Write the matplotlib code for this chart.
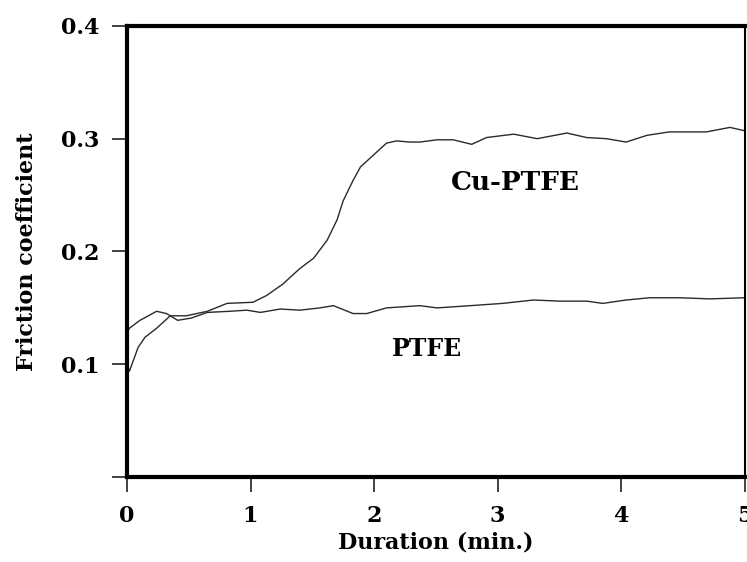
import matplotlib
matplotlib.use("Agg")
import matplotlib.pyplot as plt

# Friction coefficient versus sliding duration (min.)
cu_ptfe_t = [0.0, 0.02, 0.09, 0.146, 0.24, 0.35, 0.48, 0.65, 0.81, 1.02, 1.13, 1.26,
             1.40, 1.51, 1.62, 1.70, 1.75, 1.83, 1.89, 1.99, 2.10, 2.18, 2.29, 2.37,
             2.51, 2.64, 2.79, 2.91, 3.13, 3.32, 3.56, 3.72, 3.88, 4.04, 4.21, 4.39,
             4.69, 4.88, 5.0]
cu_ptfe_mu = [0.100, 0.094, 0.115, 0.124, 0.132, 0.143, 0.143, 0.147, 0.154, 0.155,
              0.161, 0.171, 0.185, 0.194, 0.210, 0.228, 0.245, 0.263, 0.275, 0.285,
              0.296, 0.298, 0.297, 0.297, 0.299, 0.299, 0.295, 0.301, 0.304, 0.300,
              0.305, 0.301, 0.300, 0.297, 0.303, 0.306, 0.306, 0.310, 0.307]

ptfe_t = [0.0, 0.02, 0.105, 0.24, 0.32, 0.41, 0.52, 0.65, 0.83, 0.97, 1.08, 1.24,
          1.40, 1.56, 1.67, 1.83, 1.94, 2.10, 2.37, 2.51, 2.78, 3.04, 3.29, 3.50,
          3.72, 3.85, 4.04, 4.23, 4.47, 4.72, 5.0]
ptfe_mu = [0.128, 0.132, 0.139, 0.147, 0.145, 0.139, 0.141, 0.146, 0.147, 0.148,
           0.146, 0.149, 0.148, 0.150, 0.152, 0.145, 0.145, 0.150, 0.152, 0.150,
           0.152, 0.154, 0.157, 0.156, 0.156, 0.154, 0.157, 0.159, 0.159, 0.158,
           0.159]

x_ticks = [0, 1, 2, 3, 4, 5]
y_ticks = [0.0, 0.1, 0.2, 0.3, 0.4]
y_tick_labels = ["", "0.1", "0.2", "0.3", "0.4"]

plt.rcParams["font.family"] = ["DejaVu Serif"]

fig = plt.figure(figsize=(7.47, 5.62), dpi=100)
ax = fig.add_axes([0.170, 0.151, 0.827, 0.803])

line_kw = dict(color="#2a2a2a", linewidth=1.0)
ax.plot(cu_ptfe_t, cu_ptfe_mu, **line_kw)
ax.plot(ptfe_t, ptfe_mu, **line_kw)

ax.set_xlim(0, 5)
ax.set_ylim(0, 0.4)
ax.set_xticks(x_ticks)
ax.set_xticklabels([str(v) for v in x_ticks], fontsize=16, fontweight="bold")
ax.set_yticks(y_ticks)
ax.set_yticklabels(y_tick_labels, fontsize=16, fontweight="bold")
ax.tick_params(direction="out", length=11, width=1.2, pad=9, color="#222222")

for side in ("left", "bottom", "top"):
    ax.spines[side].set_linewidth(3.0)
ax.spines["right"].set_linewidth(1.5)

ax.set_xlabel("Duration (min.)", fontsize=16, fontweight="bold", labelpad=3)
ax.set_ylabel("Friction coefficient", fontsize=16, fontweight="bold", labelpad=16)

ax.text(3.14, 0.261, "Cu-PTFE", fontsize=19, fontweight="bold",
        ha="center", va="center")
ax.text(2.43, 0.114, "PTFE", fontsize=17, fontweight="bold",
        ha="center", va="center")

fig.savefig("out.png", dpi=100)
